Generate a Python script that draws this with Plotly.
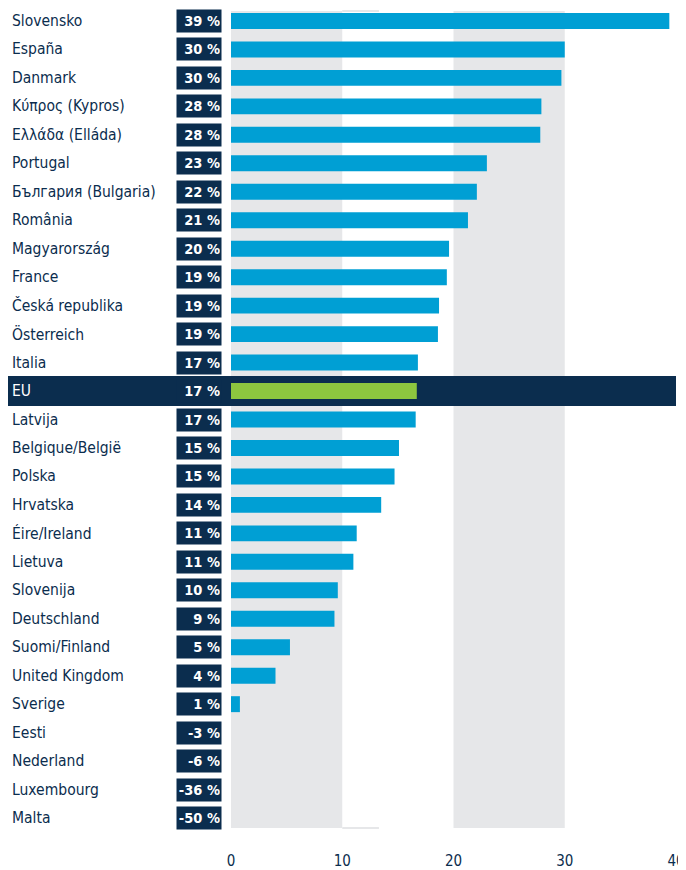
import plotly.graph_objects as go

countries = ["Slovensko", "España", "Danmark", "Κύπρος (Kypros)", "Ελλάδα (Elláda)", "Portugal",
             "България (Bulgaria)", "România", "Magyarország", "France", "Česká republika",
             "Österreich", "Italia", "EU", "Latvija", "Belgique/België", "Polska", "Hrvatska",
             "Éire/Ireland", "Lietuva", "Slovenija", "Deutschland", "Suomi/Finland",
             "United Kingdom", "Sverige", "Eesti", "Nederland", "Luxembourg", "Malta"]
values = [39.4, 30.0, 29.7, 27.9, 27.8, 23.0, 22.1, 21.3, 19.6, 19.4, 18.7, 18.6, 16.8, 16.7,
          16.6, 15.1, 14.7, 13.5, 11.3, 11.0, 9.6, 9.3, 5.3, 4.0, 0.8, -3, -6, -36, -50]
labels = ["39 %", "30 %", "30 %", "28 %", "28 %", "23 %", "22 %", "21 %", "20 %", "19 %", "19 %",
          "19 %", "17 %", "17 %", "17 %", "15 %", "15 %", "14 %", "11 %", "11 %", "10 %", "9 %",
          "5 %", "4 %", "1 %", "-3 %", "-6 %", "-36 %", "-50 %"]
xticks = [0, 10, 20, 30, 40]

NAVY = "#0b2d4e"
BLUE = "#009fd4"
GREEN = "#8dc63f"
GRAY = "#e6e7e9"
FONT = "DejaVu Sans Condensed, sans-serif"

# page has an 8px body margin; figure coordinates compensate for it
OFF = 8
W, H = 678, 862
ML, MR, MT, MB = 231 - OFF, 10, 11 - OFF, 42
pw = W - ML - MR

idx = list(range(len(countries)))
colors = [GREEN if c == "EU" else BLUE for c in countries]

fig = go.Figure(go.Bar(x=values, y=idx, orientation="h", marker=dict(color=colors, line=dict(width=0)),
                       hoverinfo="skip"))

def px2paper(px):
    return (px - OFF - ML) / pw

shapes = []
for a, b in [(0, 10), (20, 30)]:
    shapes.append(dict(type="rect", xref="x", yref="paper", x0=a, x1=b, y0=0, y1=1,
                       fillcolor=GRAY, line=dict(width=0), layer="below"))
for yy in [0, 1]:
    shapes.append(dict(type="line", xref="x", yref="paper", x0=10, x1=13.3, y0=yy, y1=yy,
                       line=dict(color=GRAY, width=2), layer="below"))
eu = countries.index("EU")
shapes.append(dict(type="rect", xref="paper", yref="y", x0=-ML / pw, x1=1.0,
                   y0=eu - 0.527, y1=eu + 0.527, fillcolor=NAVY, line=dict(width=0), layer="below"))

annotations = []
for i, (c, lab) in enumerate(zip(countries, labels)):
    is_eu = c == "EU"
    annotations.append(dict(x=px2paper(10), y=i, xref="paper", yref="y", text=c, showarrow=False,
                            xanchor="left", yanchor="middle",
                            font=dict(family=FONT, size=15.5, color="white" if is_eu else NAVY)))
    annotations.append(dict(x=px2paper(222), y=i, xref="paper", yref="y", text="<b>" + lab + "</b>",
                            showarrow=False, xanchor="right", yanchor="middle", align="right",
                            width=42, height=20, borderpad=1,
                            bgcolor=NAVY,
                            font=dict(family=FONT, size=14.5, color="white")))

fig.update_layout(
    width=W, height=H, margin=dict(l=ML, r=MR, t=MT, b=MB, autoexpand=False),
    paper_bgcolor="white", plot_bgcolor="white",
    bargap=0.44, showlegend=False,
    shapes=shapes, annotations=annotations,
    xaxis=dict(range=[0, 40], tickvals=xticks, ticktext=[str(t) for t in xticks],
               showgrid=False, zeroline=False, showline=False, automargin=False,
               ticklabeloverflow="allow",
               ticks="outside", ticklen=19, tickcolor="rgba(0,0,0,0)",
               tickfont=dict(family=FONT, size=15, color=NAVY), fixedrange=True),
    yaxis=dict(range=[28.35, -0.35], showticklabels=False, showgrid=False, zeroline=False,
               showline=False, fixedrange=True, automargin=False),
)

fig.write_html("out.html")
